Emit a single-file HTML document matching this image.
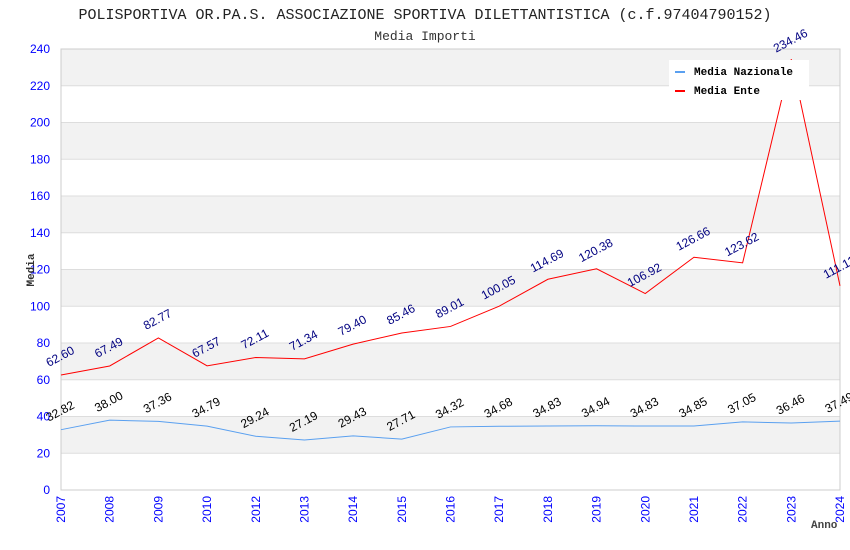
<!DOCTYPE html>
<html><head><meta charset="utf-8"><style>
body{margin:0;background:#fff;width:850px;height:550px;overflow:hidden}
svg{display:block}
</style></head><body>
<svg id="chart" width="850" height="550" xmlns="http://www.w3.org/2000/svg">
<text x="425" y="19" text-anchor="middle" font-family="Liberation Mono, monospace" font-size="15" fill="#222">POLISPORTIVA OR.PA.S. ASSOCIAZIONE SPORTIVA DILETTANTISTICA (c.f.97404790152)</text>
<text x="425" y="40" text-anchor="middle" font-family="Liberation Mono, monospace" font-size="13" fill="#333">Media Importi</text>
<g id="bands"></g><g id="grid"></g>
<rect x="61" y="49" width="779" height="441" fill="none" stroke="#ccc"/>
<g id="yticks"></g><g id="xticks"></g><g id="series"></g>
<text x="34" y="270" transform="rotate(-90 34 270)" text-anchor="middle" font-family="Liberation Mono, monospace" font-size="11" font-weight="bold" fill="#333">Media</text>
<text x="811" y="528" font-family="Liberation Mono, monospace" font-size="11" font-weight="bold" fill="#444">Anno</text>
<g>
<rect x="669" y="60" width="140" height="40" fill="#fff"/>
<g><rect x="675" y="71" width="10" height="2" fill="#5aa0f0"/><text x="694" y="75" font-family="Liberation Mono, monospace" font-size="11" font-weight="bold" fill="#000">Media Nazionale</text></g>
<g><rect x="675" y="90" width="10" height="2" fill="#f00"/><text x="694" y="94" font-family="Liberation Mono, monospace" font-size="11" font-weight="bold" fill="#000">Media Ente</text></g>
</g>
</svg>
<script>
const years=["2007","2008","2009","2010","2012","2013","2014","2015","2016","2017","2018","2019","2020","2021","2022","2023","2024"];
const nazionale=[32.82,38.00,37.36,34.79,29.24,27.19,29.43,27.71,34.32,34.68,34.83,34.94,34.83,34.85,37.05,36.46,37.49];
const ente=[62.60,67.49,82.77,67.57,72.11,71.34,79.40,85.46,89.01,100.05,114.69,120.38,106.92,126.66,123.62,234.46,111.11];
const yTicks=[0,20,40,60,80,100,120,140,160,180,200,220,240];
const NS="http://www.w3.org/2000/svg";
const L=61,R=840,T=49,B=490,YMAX=240;
const xs=i=>L+i*(R-L)/(years.length-1);
const ys=v=>B-v/YMAX*(B-T);
function mk(tag,at,parent){const e=document.createElementNS(NS,tag);for(const k in at)e.setAttribute(k,at[k]);document.getElementById(parent).appendChild(e);return e;}
for(let i=0;i<yTicks.length-1;i++){
 if((yTicks.length-2-i)%2===0){const r=mk('rect',{x:L,y:ys(yTicks[i+1]),width:R-L,height:ys(yTicks[i])-ys(yTicks[i+1]),fill:'#f2f2f2'},'bands');
 
 }
}
yTicks.forEach(v=>{
 const l=mk('line',{x1:L,x2:R,y1:ys(v),y2:ys(v),stroke:'#ddd'},'grid');
 
 
 const t=mk('text',{x:50,y:ys(v)+4,'text-anchor':'end','font-family':'Liberation Sans, sans-serif','font-size':12,fill:'#00f'},'yticks');
 t.textContent=v;
 
 
});
years.forEach((y,i)=>{
 const x=xs(i);
 const t=mk('text',{x:x+4,y:496,transform:`rotate(-90 ${x+4} 496)`,'text-anchor':'end','font-family':'Liberation Sans, sans-serif','font-size':12,fill:'#00f'},'xticks');
 t.textContent=y;
 
 
});
function series(vals,color,lab,name){
 const p=mk('polyline',{points:vals.map((v,i)=>xs(i)+','+ys(v)).join(' '),fill:'none',stroke:color,'stroke-width':1},'series');
 
 
 vals.forEach((v,i)=>{
  const x=xs(i)+1,y=ys(v)-15;
  const t=mk('text',{x:x,y:y,transform:`rotate(-28 ${x} ${y})`,'text-anchor':'middle','font-family':'Liberation Sans, sans-serif','font-size':12,fill:lab},'series');
  t.textContent=v.toFixed(2);
  
  
 });
}
series(nazionale,'#5aa0f0','#000','line-media-nazionale');
series(ente,'#f00','#000080','line-media-ente');
</script>
</body></html>
